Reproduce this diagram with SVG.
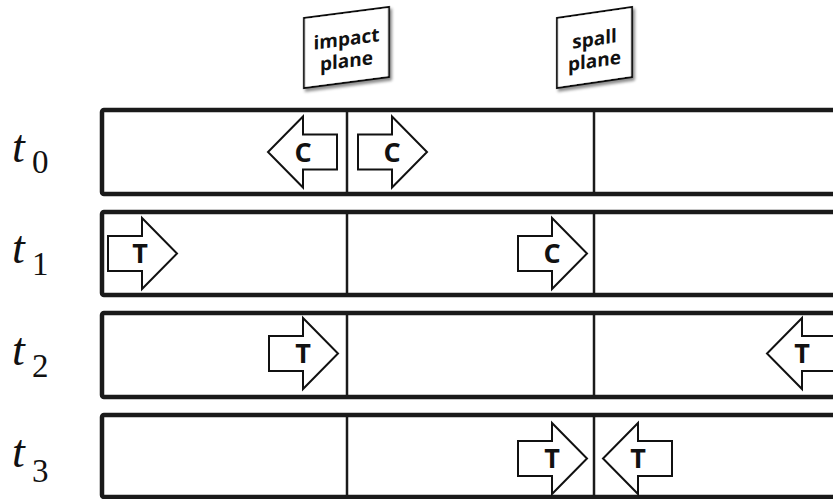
<svg xmlns="http://www.w3.org/2000/svg" xmlns:xlink="http://www.w3.org/1999/xlink" width="833" height="499" viewBox="0 0 833 499">
<defs>
<style>
.bar{fill:#fff;stroke:#1a1a1a;stroke-width:4.5}
.plane{stroke:#1a1a1a;stroke-width:2.5}
.arr{fill:#fff;stroke:#111;stroke-width:2;stroke-linejoin:miter}
.lt{font-family:"Open Sans","Liberation Sans",sans-serif;font-weight:700;font-size:27px;fill:#111;text-anchor:middle}
.tl{font-family:"Liberation Serif","Times New Roman",serif;font-style:italic;font-size:46px;fill:#111}
.sub{font-family:"Liberation Serif","Times New Roman",serif;font-size:33px;fill:#111}
.box{fill:#fff;stroke:#111;stroke-width:2}
.bt{font-family:"Open Sans","Liberation Sans",sans-serif;font-weight:700;font-size:19px;fill:#111;text-anchor:middle}
</style>
<path id="ar" class="arr" d="M-69,-17.5 H-35 V-35.5 L0,0 L-35,35.5 V17.5 H-69 Z"/>
<filter id="sh" x="-20%" y="-20%" width="150%" height="150%">
<feGaussianBlur in="SourceAlpha" stdDeviation="1.5"/>
<feOffset dx="2" dy="3" result="b"/>
<feComponentTransfer><feFuncA type="linear" slope="0.45"/></feComponentTransfer>
<feMerge><feMergeNode/><feMergeNode in="SourceGraphic"/></feMerge>
</filter>
</defs>
<rect width="833" height="499" fill="#fff"/>

<g id="impact-plane-label" transform="translate(346.5,47.5) skewY(-7.4)">
<rect class="box" x="-42.5" y="-35" width="85" height="70" filter="url(#sh)"/>
<text class="bt" x="0" y="-2">impact</text>
<text class="bt" x="0" y="20">plane</text>
</g>
<g id="spall-plane-label" transform="translate(594.5,47.5) skewY(-8.3)">
<rect class="box" x="-37.5" y="-35" width="75" height="70" filter="url(#sh)"/>
<text class="bt" x="0" y="-2">spall</text>
<text class="bt" x="0" y="20">plane</text>
</g>

<g id="row-t0">
<rect class="bar" x="102" y="110" width="740" height="84" rx="2"/>
<line class="plane" x1="347" y1="110" x2="347" y2="194"/>
<line class="plane" x1="594" y1="110" x2="594" y2="194"/>
<text class="tl" x="12" y="162">t</text><text class="sub" x="32" y="173">0</text>
<use xlink:href="#ar" transform="translate(268,152) scale(-1,1)"/>
<text class="lt" x="303" y="162">C</text>
<use xlink:href="#ar" transform="translate(427,152)"/>
<text class="lt" x="392" y="162">C</text>
</g>

<g id="row-t1">
<rect class="bar" x="102" y="212" width="740" height="83" rx="2"/>
<line class="plane" x1="347" y1="212" x2="347" y2="295"/>
<line class="plane" x1="594" y1="212" x2="594" y2="295"/>
<text class="tl" x="12" y="263">t</text><text class="sub" x="32" y="275">1</text>
<use xlink:href="#ar" transform="translate(177,253.5)"/>
<text class="lt" x="140" y="263">T</text>
<use xlink:href="#ar" transform="translate(587,253.5)"/>
<text class="lt" x="552" y="263">C</text>
</g>

<g id="row-t2">
<rect class="bar" x="102" y="313" width="740" height="84" rx="2"/>
<line class="plane" x1="347" y1="313" x2="347" y2="397"/>
<line class="plane" x1="594" y1="313" x2="594" y2="397"/>
<text class="tl" x="12" y="365">t</text><text class="sub" x="32" y="377">2</text>
<use xlink:href="#ar" transform="translate(338,353.5)"/>
<text class="lt" x="303" y="363">T</text>
<use xlink:href="#ar" transform="translate(767,353.5) scale(-1,1)"/>
<text class="lt" x="802" y="363">T</text>
</g>

<g id="row-t3">
<rect class="bar" x="102" y="415" width="740" height="82" rx="2"/>
<line class="plane" x1="347" y1="415" x2="347" y2="497"/>
<line class="plane" x1="594" y1="415" x2="594" y2="497"/>
<text class="tl" x="12" y="467">t</text><text class="sub" x="32" y="482">3</text>
<use xlink:href="#ar" transform="translate(587,458.5)"/>
<text class="lt" x="552" y="468">T</text>
<use xlink:href="#ar" transform="translate(603,458.5) scale(-1,1)"/>
<text class="lt" x="638" y="468">T</text>
</g>
</svg>
